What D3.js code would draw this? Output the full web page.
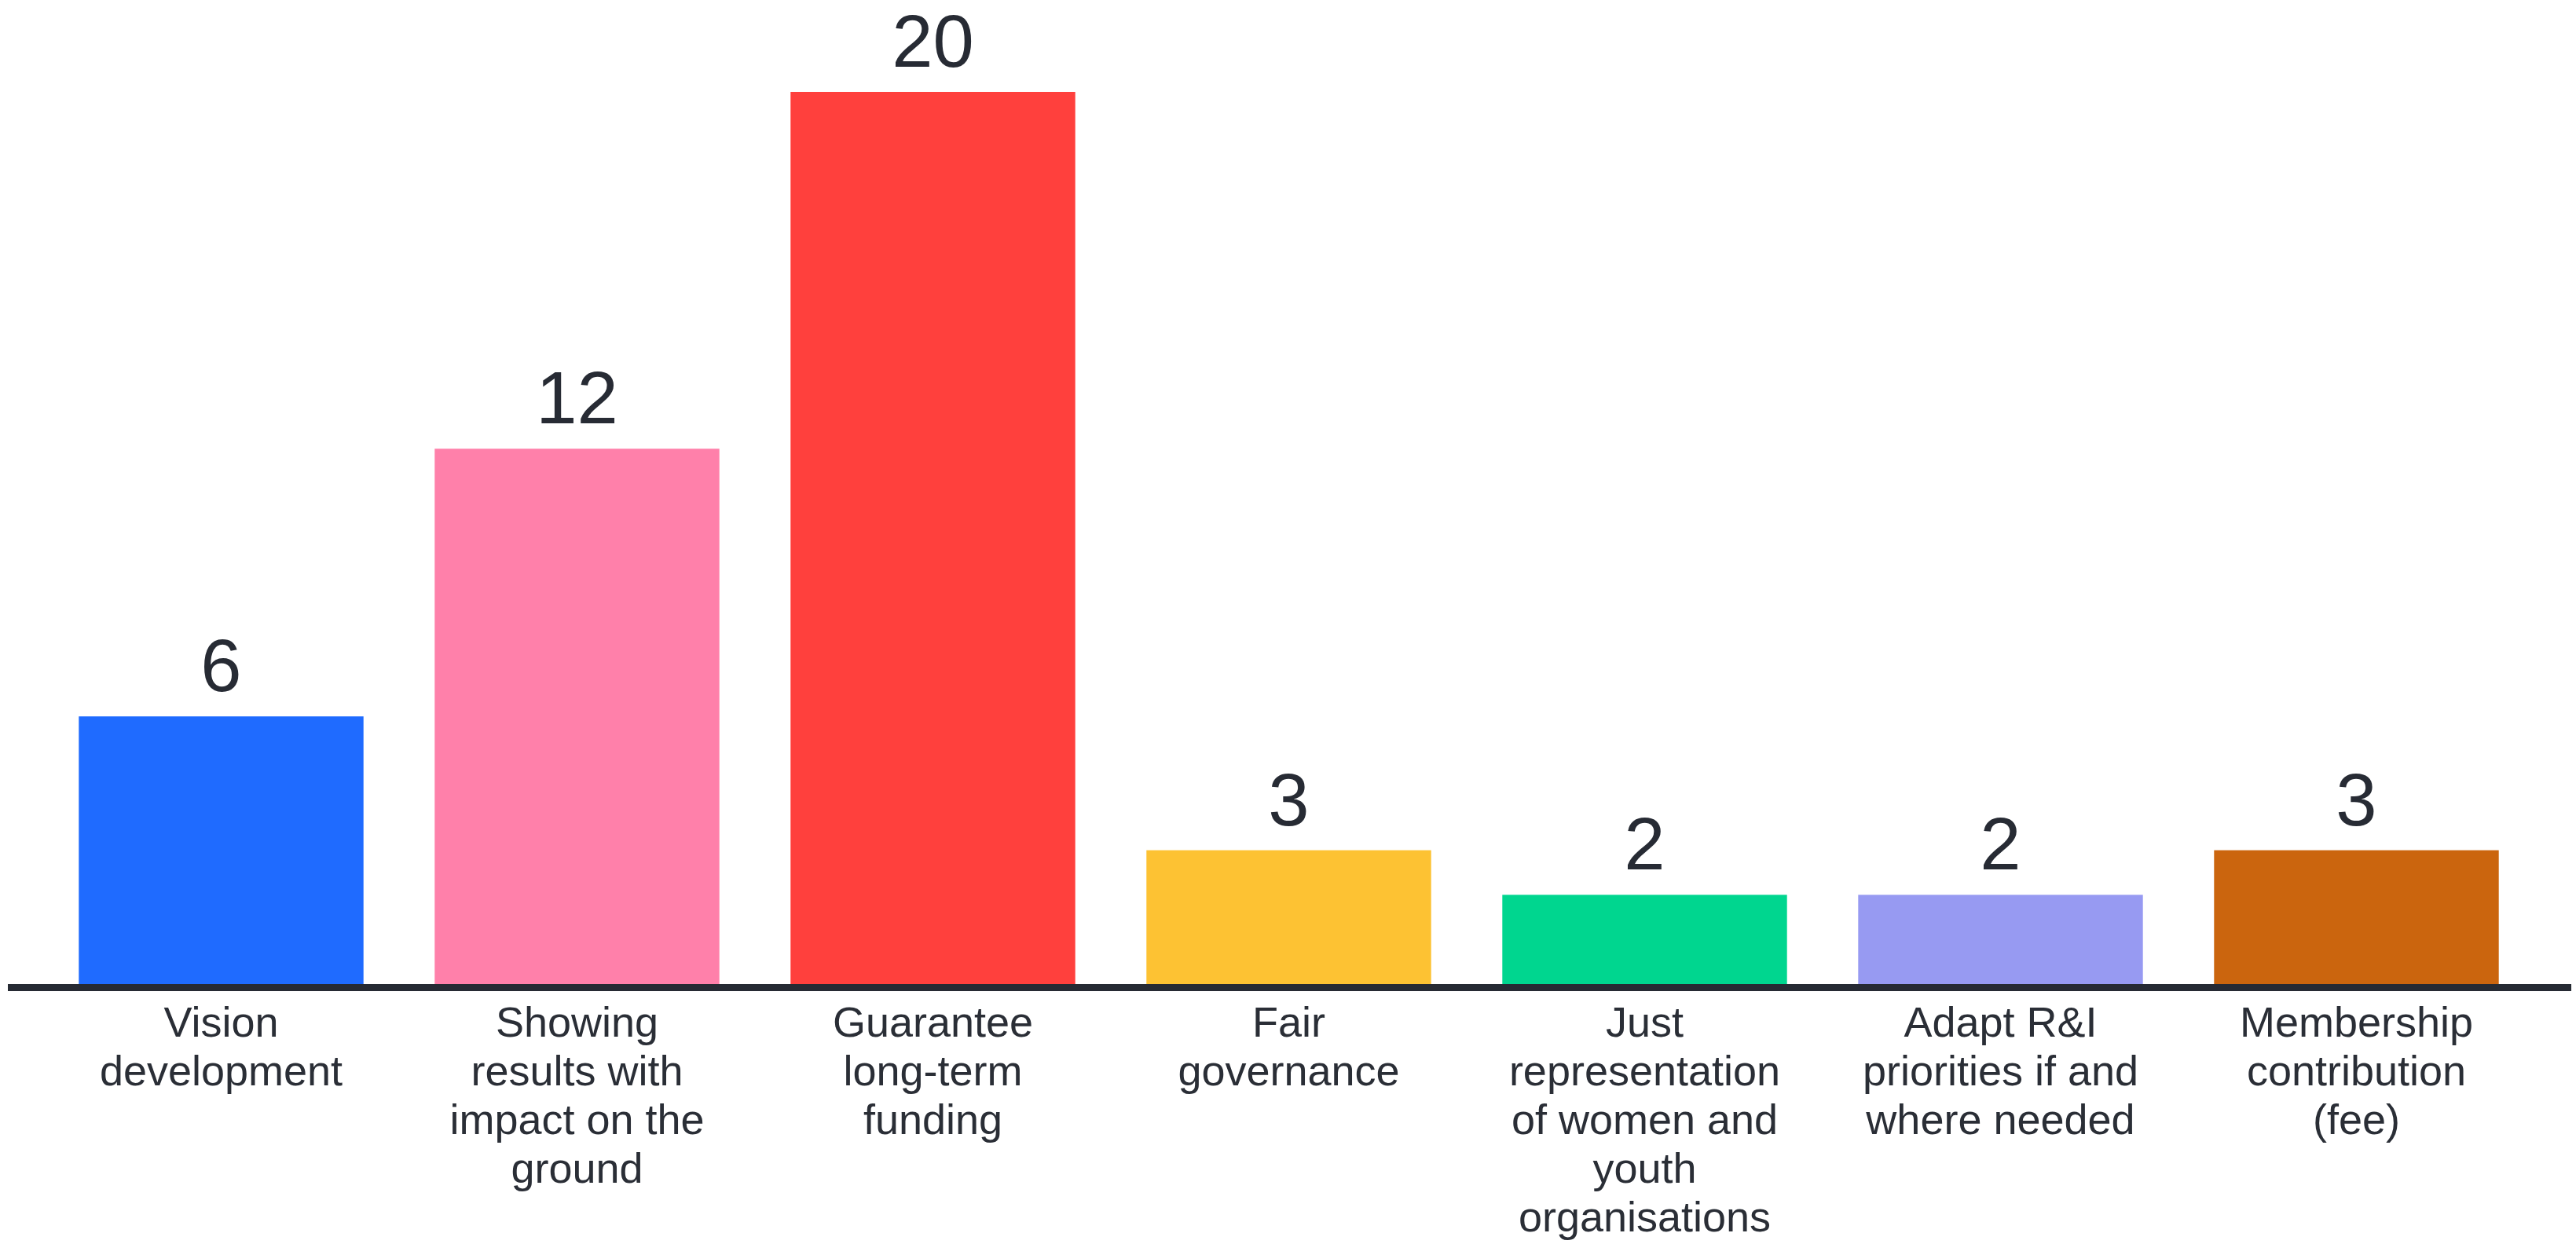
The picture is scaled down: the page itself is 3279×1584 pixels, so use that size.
<!DOCTYPE html>
<html>
<head>
<meta charset="utf-8">
<script src="https://cdn.jsdelivr.net/npm/d3@7"></script>
<style>
  html, body { margin: 0; padding: 0; background: #ffffff; }
  svg { display: block; }
</style>
</head>
<body>
<div id="chart-container"></div>
<script>
// chart data
var categories = [
    "Vision|development",
    "Showing|results with|impact on the|ground",
    "Guarantee|long-term|funding",
    "Fair|governance",
    "Just|representation|of women and|youth|organisations",
    "Adapt R&I|priorities if and|where needed",
    "Membership|contribution|(fee)"
];
var values = [6, 12, 20, 3, 2, 2, 3];
var barColors = ["#1f6bff", "#ff80aa", "#ff403d", "#fdc233", "#00d68f", "#979af2", "#cb650e"];

var fullWidth = 3279, fullHeight = 1584;
var margin = {top: 117, right: 53, bottom: 331, left: 55};
var width = fullWidth - margin.left - margin.right;
var height = fullHeight - margin.top - margin.bottom;

var svg = d3.select("#chart-container")
    .append("svg")
    .attr("width", fullWidth)
    .attr("height", fullHeight)
    .append("g")
    .attr("transform", "translate(" + margin.left + "," + margin.top + ")");

var x = d3.scaleBand()
    .domain(categories)
    .range([0, width])
    .paddingInner(0.2)
    .paddingOuter(0.1);

var y = d3.scaleLinear()
    .domain([0, d3.max(values)])
    .range([height, 0]);

var data = categories.map(function (c, i) {
    return {cat: c, value: values[i], color: barColors[i]};
});

// bars
svg.selectAll("rect.bar")
    .data(data)
    .enter().append("rect")
    .attr("class", "bar")
    .attr("x", function (d) { return x(d.cat); })
    .attr("width", x.bandwidth())
    .attr("y", function (d) { return y(d.value); })
    .attr("height", function (d) { return height - y(d.value); })
    .style("fill", function (d) { return d.color; });

// value labels
svg.selectAll("text.val")
    .data(data)
    .enter().append("text")
    .attr("class", "val")
    .attr("x", function (d) { return x(d.cat) + x.bandwidth() / 2; })
    .attr("y", function (d) { return y(d.value) - 32; })
    .attr("text-anchor", "middle")
    .style("font-family", "'Liberation Sans', Arial, sans-serif")
    .style("font-size", "94px")
    .style("fill", "#272b34")
    .text(function (d) { return d.value; });

// x axis with wrapped labels
var xAxis = d3.axisBottom(x).tickSize(0).tickFormat("");
var gx = svg.append("g")
    .attr("class", "x-axis")
    .attr("transform", "translate(0," + height + ")")
    .call(xAxis);
gx.select(".domain").remove();

gx.selectAll(".tick").each(function (d) {
    var lines = d.split("|");
    var t = d3.select(this).append("text")
        .attr("text-anchor", "middle")
        .style("font-family", "'Liberation Sans', Arial, sans-serif")
        .style("font-size", "54px")
        .style("fill", "#2a2e36");
    lines.forEach(function (line, i) {
        t.append("tspan")
            .attr("x", 0)
            .attr("y", 67 + i * 62)
            .text(line);
    });
});

// baseline
svg.append("line")
    .attr("x1", -margin.left + 10)
    .attr("x2", width + margin.right - 6)
    .attr("y1", y(0) + 4.5)
    .attr("y2", y(0) + 4.5)
    .style("stroke", "#262a33")
    .style("stroke-width", 9);
</script>
</body>
</html>
